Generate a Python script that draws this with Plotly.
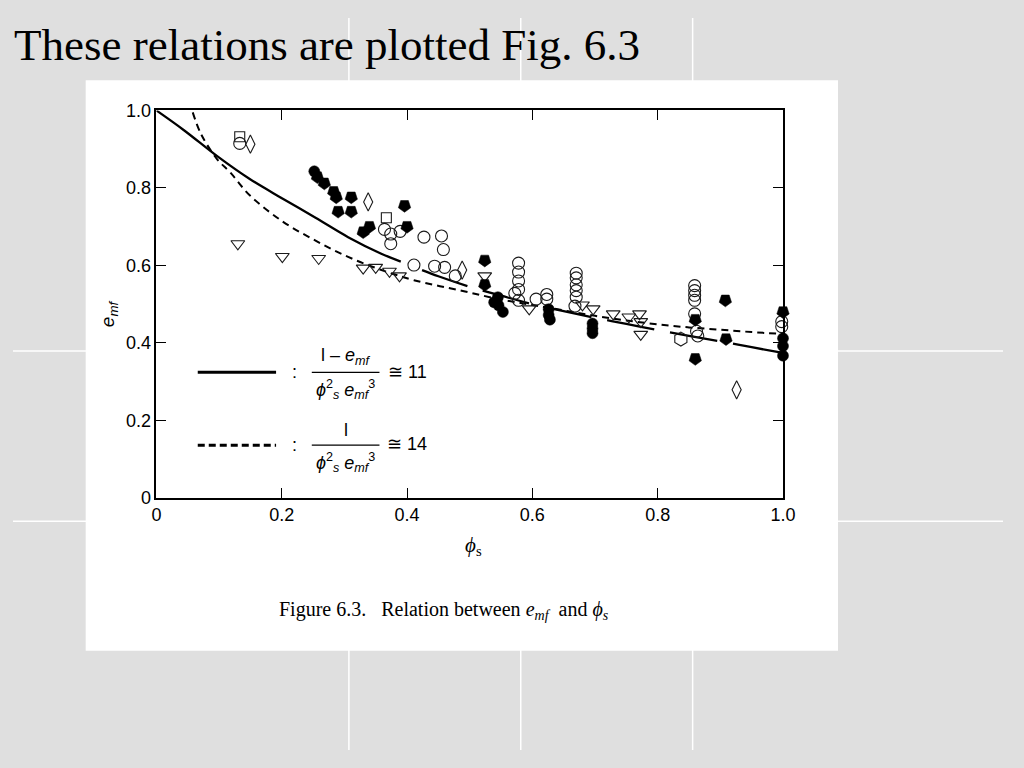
import plotly.graph_objects as go

# ---------------- data ----------------
x_ticks = [0, 0.2, 0.4, 0.6, 0.8, 1.0]
x_tick_labels = ["0", "0.2", "0.4", "0.6", "0.8", "1.0"]
y_ticks = [0, 0.2, 0.4, 0.6, 0.8, 1.0]
y_tick_labels = ["0", "0.2", "0.4", "0.6", "0.8", "1.0"]

# solid curve  (1 - e)/(phi^2 e^3) ~ 11
solid_phi = [0.0, 0.044, 0.097, 0.149, 0.201, 0.254, 0.306, 0.358, 0.390]
solid_e = [1.0, 0.949, 0.882, 0.823, 0.773, 0.723, 0.673, 0.631, 0.610]
solid2_phi = [0.424, 0.45, 0.50, 0.55, 0.60, 0.65, 0.70, 0.75, 0.80, 0.85, 0.90, 0.95, 1.0]
solid2_e = [0.588, 0.572, 0.545, 0.522, 0.500, 0.482, 0.465, 0.449, 0.433, 0.418, 0.404, 0.389, 0.374]

# dashed curve  1/(phi^2 e^3) ~ 14
dash_phi = [0.058, 0.071, 0.097, 0.118, 0.149, 0.201, 0.254, 0.306, 0.358, 0.411, 0.489,
            0.55, 0.60, 0.65, 0.70, 0.75, 0.80, 0.85, 0.90, 0.95, 1.0]
dash_e = [0.995, 0.94, 0.874, 0.84, 0.781, 0.714, 0.664, 0.622, 0.589, 0.562, 0.534,
          0.512, 0.498, 0.484, 0.470, 0.458, 0.448, 0.440, 0.434, 0.428, 0.423]

circ_phi = [0.133, 0.364, 0.374, 0.374, 0.389, 0.427, 0.455, 0.458, 0.411, 0.444, 0.460, 0.477,
            0.578, 0.578, 0.578, 0.578, 0.572, 0.578, 0.606, 0.623, 0.623,
            0.670, 0.670, 0.670, 0.670, 0.670, 0.668,
            0.859, 0.859, 0.859, 0.859, 0.859, 0.862, 0.864, 0.998, 0.998]
circ_e = [0.915, 0.693, 0.681, 0.656, 0.688, 0.673, 0.676, 0.641, 0.601, 0.598, 0.595, 0.573,
          0.606, 0.583, 0.560, 0.538, 0.528, 0.510, 0.513, 0.525, 0.513,
          0.580, 0.568, 0.550, 0.535, 0.518, 0.495,
          0.548, 0.535, 0.523, 0.510, 0.475, 0.430, 0.418, 0.455, 0.442]

shield_phi = [0.257, 0.268, 0.283, 0.287, 0.311, 0.290, 0.311, 0.330, 0.340, 0.396, 0.400,
              0.524, 0.524, 0.860, 0.860, 0.908, 0.909, 1.0]
shield_e = [0.828, 0.812, 0.790, 0.776, 0.776, 0.739, 0.739, 0.686, 0.700, 0.754, 0.700,
            0.613, 0.550, 0.460, 0.359, 0.510, 0.410, 0.480]

dot_phi = [0.252, 0.539, 0.545, 0.546, 0.553, 0.626, 0.626, 0.628, 0.696, 0.696, 0.696, 1.0, 1.0, 1.0]
dot_e = [0.843, 0.505, 0.518, 0.497, 0.480, 0.487, 0.472, 0.460, 0.450, 0.437, 0.425, 0.412, 0.392, 0.367]

tri_phi = [0.130, 0.201, 0.259, 0.330, 0.350, 0.372, 0.388, 0.524, 0.595,
           0.680, 0.697, 0.729, 0.754, 0.771, 0.773, 0.773]
tri_e = [0.656, 0.623, 0.618, 0.593, 0.595, 0.585, 0.573, 0.573, 0.488,
         0.498, 0.488, 0.475, 0.467, 0.475, 0.455, 0.422]

diam_phi = [0.150, 0.338, 0.488, 0.926]
diam_e = [0.913, 0.764, 0.588, 0.279]

sq_phi = [0.133, 0.367]
sq_e = [0.932, 0.723]

hex_phi = [0.837]
hex_e = [0.410]

# ---------------- figure ----------------
# the page body keeps its default 8px margin, so the figure is 16px smaller than the window
M = 8
W, H = 1024 - 2 * M, 768 - 2 * M
def px(x):
    return (x - M) / W
def py(y):
    return 1 - (y - M) / H

INK = "#1a1a1a"
fig = go.Figure()

fig.add_trace(go.Scatter(x=solid_phi, y=solid_e, mode="lines",
                         line=dict(color="black", width=2.3, shape="spline"), hoverinfo="skip"))
fig.add_trace(go.Scatter(x=solid2_phi, y=solid2_e, mode="lines",
                         line=dict(color="black", width=2.3, dash="48px,16px", shape="spline"), hoverinfo="skip"))
fig.add_trace(go.Scatter(x=dash_phi, y=dash_e, mode="lines",
                         line=dict(color="black", width=2.0, dash="7px,5px", shape="spline"), hoverinfo="skip"))

mk_open = dict(color="rgba(0,0,0,0)", line=dict(color=INK, width=1.1))
fig.add_trace(go.Scatter(x=circ_phi, y=circ_e, mode="markers", cliponaxis=False,
                         marker=dict(symbol="circle", size=12, **mk_open)))
fig.add_trace(go.Scatter(x=tri_phi, y=tri_e, mode="markers", cliponaxis=False,
                         marker=dict(symbol="triangle-down", size=12, **mk_open)))
fig.add_trace(go.Scatter(x=diam_phi, y=diam_e, mode="markers", cliponaxis=False,
                         marker=dict(symbol="diamond-tall", size=13, **mk_open)))
fig.add_trace(go.Scatter(x=sq_phi, y=sq_e, mode="markers", cliponaxis=False,
                         marker=dict(symbol="square", size=10, **mk_open)))
fig.add_trace(go.Scatter(x=hex_phi, y=hex_e, mode="markers", cliponaxis=False,
                         marker=dict(symbol="hexagon", size=14, **mk_open)))
fig.add_trace(go.Scatter(x=shield_phi, y=shield_e, mode="markers", cliponaxis=False,
                         marker=dict(symbol="pentagon", angle=180, size=13, color="black",
                                     line=dict(color="black", width=0.5))))
fig.add_trace(go.Scatter(x=dot_phi, y=dot_e, mode="markers", cliponaxis=False,
                         marker=dict(symbol="circle", size=11, color="black",
                                     line=dict(color="black", width=0.5))))

axis_common = dict(range=[0, 1], showline=True, linecolor="black", linewidth=1.5, mirror="ticks",
                   ticks="inside", ticklen=10, tickwidth=1.3, tickcolor="black", showgrid=False,
                   zeroline=False, tickfont=dict(family="Liberation Sans", size=18, color="black"),
                   fixedrange=True)

shapes = []
# slide background grid lines
for xv in [350, 525, 700]:
    shapes.append(dict(type="line", xref="paper", yref="paper", x0=px(xv), x1=px(xv), y0=0, y1=1,
                       line=dict(color="white", width=1.5), layer="below"))
for yv in [350, 525]:
    shapes.append(dict(type="line", xref="paper", yref="paper", x0=0, x1=1, y0=py(yv), y1=py(yv),
                       line=dict(color="white", width=1.5), layer="below"))
# white figure panel
shapes.append(dict(type="rect", xref="paper", yref="paper", x0=px(82), x1=px(848), y0=py(658), y1=py(72),
                   fillcolor="white", line=dict(width=0), layer="below"))
# legend samples and fraction bars (data coordinates)
shapes.append(dict(type="line", xref="x", yref="y", x0=0.066, x1=0.191, y0=0.324, y1=0.324,
                   line=dict(color="black", width=3)))
shapes.append(dict(type="line", xref="x", yref="y", x0=0.066, x1=0.191, y0=0.136, y1=0.136,
                   line=dict(color="black", width=3, dash="7px,4px")))
shapes.append(dict(type="line", xref="x", yref="y", x0=0.248, x1=0.356, y0=0.324, y1=0.324,
                   line=dict(color="black", width=1.2)))
shapes.append(dict(type="line", xref="x", yref="y", x0=0.248, x1=0.356, y0=0.136, y1=0.136,
                   line=dict(color="black", width=1.2)))

sans = dict(family="Liberation Sans", size=18, color="black")
def note(text, x, y, font, xref="paper", yref="paper", **kw):
    d = dict(text=text, xref=xref, yref=yref, x=x, y=y, showarrow=False, font=font,
             xanchor="center", yanchor="middle")
    d.update(kw)
    return d

annotations = [
    note("These relations are plotted Fig. 6.3", px(7), py(36),
         dict(family="Liberation Serif", size=45, color="black"), xanchor="left"),
    note("<i>e</i><sub><i>mf</i></sub>", px(106), py(312),
         dict(family="Liberation Sans", size=19, color="black"), textangle=-90),
    note("<i>ϕ</i><sub>s</sub>", px(477), py(550), dict(family="Liberation Serif", size=21, color="black")),
    note("Figure 6.3.   Relation between <i>e<sub>mf</sub></i>  and <i>ϕ<sub>s</sub></i>", px(447), py(617),
         dict(family="Liberation Serif", size=20, color="black")),
    # legend text
    note(":", 0.221, 0.324, sans, "x", "y"),
    note(":", 0.221, 0.136, sans, "x", "y"),
    note("l – <i>e<sub>mf</sub></i>", 0.302, 0.366, sans, "x", "y"),
    note("<i>ϕ</i><sup>2</sup><sub><i>s</i></sub> <i>e<sub>mf</sub></i><sup>3</sup>", 0.302, 0.280, sans, "x", "y"),
    note("≅ 11", 0.400, 0.326, sans, "x", "y"),
    note("l", 0.302, 0.175, sans, "x", "y"),
    note("<i>ϕ</i><sup>2</sup><sub><i>s</i></sub> <i>e<sub>mf</sub></i><sup>3</sup>", 0.302, 0.092, sans, "x", "y"),
    note("≅ 14", 0.400, 0.138, sans, "x", "y"),
]

fig.update_layout(
    width=W, height=H, margin=dict(l=0, r=0, t=0, b=0),
    paper_bgcolor="#dfdfdf", plot_bgcolor="white", showlegend=False,
    xaxis=dict(domain=[px(154), px(792)], tickvals=x_ticks, ticktext=x_tick_labels, **axis_common),
    yaxis=dict(domain=[py(501), py(103)], tickvals=y_ticks, ticktext=y_tick_labels, **axis_common),
    shapes=shapes, annotations=annotations,
)

fig.write_html("out.html", config={"displayModeBar": False},
               post_script="document.body.style.background='#dfdfdf';")
